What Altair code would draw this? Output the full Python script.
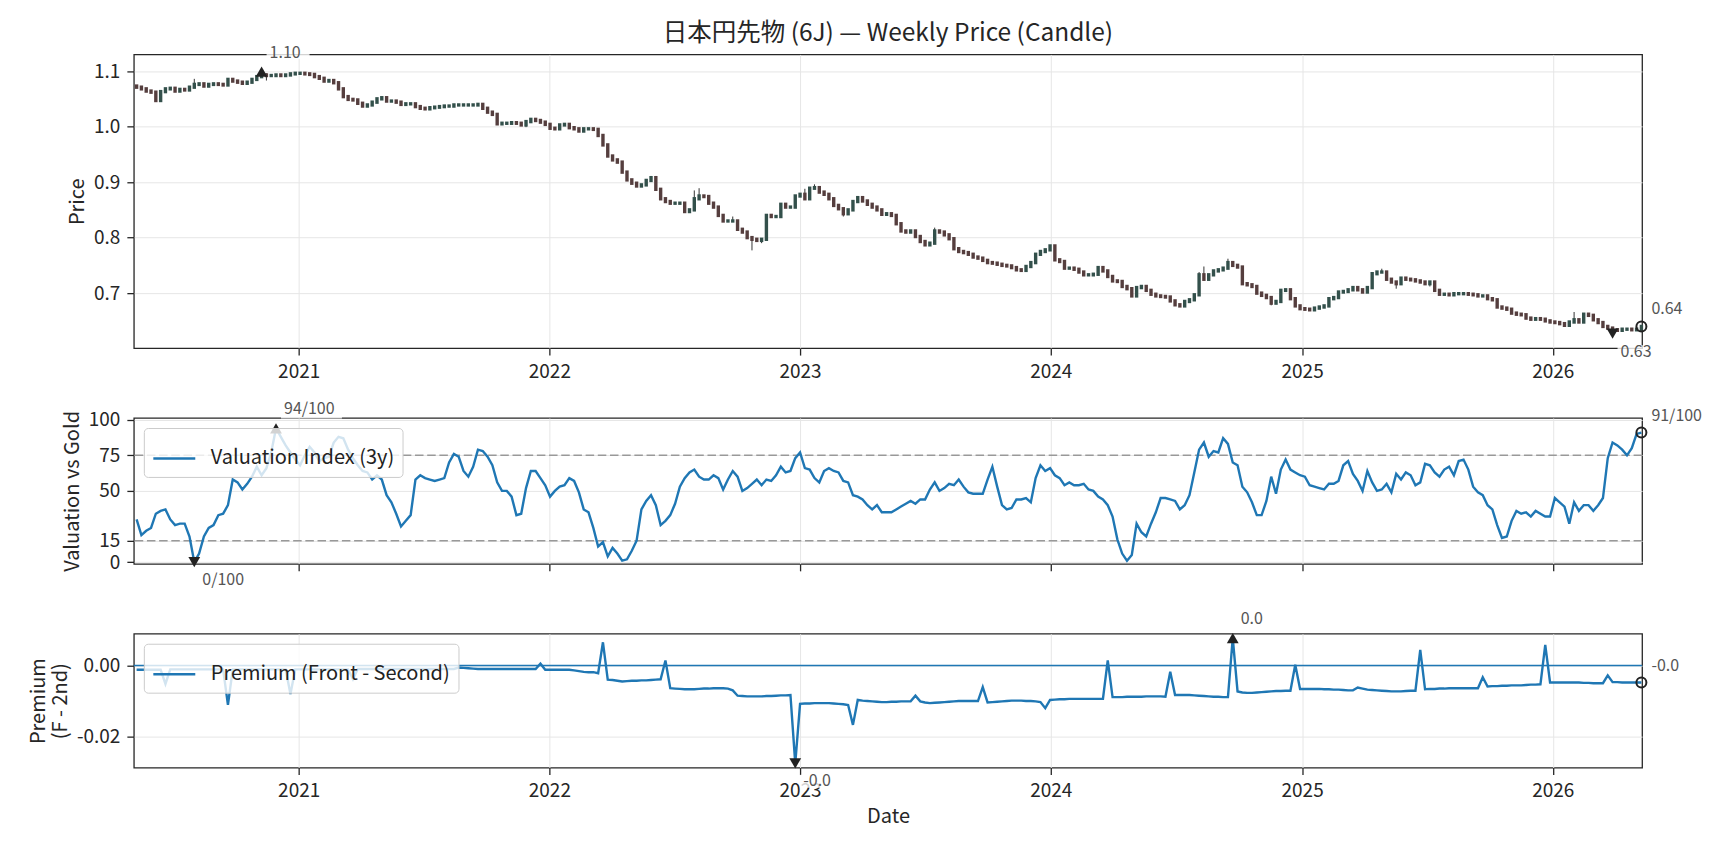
import altair as alt
import pandas as pd

FONT = "Noto Sans CJK JP"
TITLE = "日本円先物 (6J) — Weekly Price (Candle)"
START = "2020-05-10"
FIRST_OPEN = 1.073

closes = [
    1.071, 1.068, 1.064, 1.062, 1.047, 1.063, 1.068, 1.069, 1.064, 1.067,
    1.066, 1.071, 1.076, 1.077, 1.073, 1.076, 1.077, 1.076, 1.075, 1.085,
    1.082, 1.080, 1.078, 1.080, 1.085, 1.090, 1.093, 1.092, 1.092, 1.093,
    1.092, 1.093, 1.095, 1.096, 1.096, 1.095, 1.094, 1.090, 1.087, 1.082,
    1.083, 1.079, 1.068, 1.054, 1.049, 1.048, 1.042, 1.037, 1.039, 1.044,
    1.050, 1.052, 1.046, 1.046, 1.044, 1.040, 1.041, 1.041, 1.036, 1.033,
    1.032, 1.034, 1.035, 1.036, 1.037, 1.037, 1.039, 1.039, 1.039, 1.039,
    1.039, 1.040, 1.033, 1.026, 1.022, 1.005, 1.006, 1.006, 1.007, 1.006,
    1.003, 1.009, 1.013, 1.011, 1.008, 1.004, 0.997, 0.996, 1.003, 1.004,
    0.998, 0.996, 0.992, 0.996, 0.996, 0.995, 0.984, 0.967, 0.947, 0.940,
    0.936, 0.918, 0.904, 0.898, 0.893, 0.895, 0.903, 0.908, 0.887, 0.870,
    0.865, 0.862, 0.862, 0.862, 0.847, 0.850, 0.870, 0.875, 0.874, 0.862,
    0.855, 0.840, 0.830, 0.830, 0.830, 0.815, 0.810, 0.800, 0.797, 0.795,
    0.797, 0.840, 0.838, 0.838, 0.860, 0.855, 0.855, 0.875, 0.878, 0.870,
    0.889, 0.890, 0.882, 0.878, 0.870, 0.858, 0.852, 0.843, 0.850, 0.865,
    0.872, 0.866, 0.860, 0.855, 0.850, 0.842, 0.843, 0.840, 0.825, 0.812,
    0.810, 0.812, 0.802, 0.793, 0.787, 0.790, 0.812, 0.810, 0.805, 0.798,
    0.780, 0.775, 0.773, 0.770, 0.765, 0.763, 0.759, 0.755, 0.754, 0.752,
    0.750, 0.749, 0.746, 0.742, 0.741, 0.748, 0.755, 0.770, 0.775, 0.778,
    0.785, 0.760, 0.757, 0.745, 0.745, 0.743, 0.738, 0.733, 0.733, 0.734,
    0.746, 0.740, 0.730, 0.722, 0.721, 0.712, 0.708, 0.695, 0.710, 0.712,
    0.705, 0.698, 0.695, 0.694, 0.693, 0.686, 0.679, 0.677, 0.685, 0.688,
    0.697, 0.733, 0.725, 0.733, 0.740, 0.742, 0.745, 0.755, 0.750, 0.747,
    0.717, 0.715, 0.712, 0.700, 0.696, 0.692, 0.682, 0.685, 0.705, 0.706,
    0.690, 0.677, 0.672, 0.671, 0.670, 0.673, 0.675, 0.677, 0.690, 0.692,
    0.702, 0.703, 0.706, 0.710, 0.706, 0.702, 0.710, 0.735, 0.738, 0.738,
    0.725, 0.720, 0.717, 0.727, 0.725, 0.724, 0.722, 0.720, 0.717, 0.720,
    0.705, 0.698, 0.698, 0.697, 0.699, 0.699, 0.699, 0.698, 0.697, 0.695,
    0.695, 0.690, 0.688, 0.675, 0.673, 0.671, 0.664, 0.662, 0.661, 0.655,
    0.653, 0.654, 0.653, 0.650, 0.648, 0.647, 0.645, 0.642, 0.648, 0.652,
    0.648, 0.662, 0.660, 0.652, 0.647, 0.640, 0.637, 0.634, 0.633, 0.635,
    0.635, 0.634, 0.635, 0.640,
]

wick_high = {12: 1.086, 26: 1.099, 27: 1.096, 116: 0.885, 117: 0.889, 124: 0.838,
             139: 0.888, 141: 0.896, 166: 0.818, 221: 0.738, 222: 0.748, 227: 0.762,
             259: 0.744, 299: 0.666}
wick_low = {27: 1.083, 81: 0.999, 128: 0.777, 130: 0.790, 147: 0.838, 236: 0.678,
            262: 0.708, 269: 0.712, 307: 0.627}

valuation = [
    30, 19, 22, 24, 34, 36, 37, 30, 26, 27,
    27, 18, 0, 6, 18, 24, 26, 33, 34, 40,
    58, 56, 51, 55, 60, 67, 61, 66, 77, 94,
    88, 82, 77, 72, 68, 75, 81, 77, 71, 73,
    74, 84, 88, 87, 79, 73, 68, 64, 63, 58,
    61, 58, 47, 42, 34, 25, 29, 33, 58, 61,
    59, 58, 57, 58, 59, 70, 76, 74, 64, 60,
    67, 79, 78, 74, 68, 56, 50, 50, 46, 33,
    34, 52, 64, 64, 59, 54, 46, 50, 53, 54,
    59, 57, 49, 37, 35, 24, 11, 14, 4, 10,
    6, 1, 2, 8, 15, 37, 43, 47, 40, 26,
    29, 33, 41, 53, 59, 63, 65, 60, 58, 58,
    61, 59, 51, 58, 64, 60, 50, 52, 55, 58,
    54, 58, 57, 61, 67, 63, 64, 73, 77, 66,
    65, 59, 56, 64, 66, 64, 63, 57, 56, 47,
    46, 44, 40, 37, 40, 35, 35, 35, 37, 39,
    41, 43, 41, 44, 44, 51, 56, 50, 52, 55,
    54, 58, 53, 49, 48, 48, 48, 58, 67, 53,
    40, 37, 38, 44, 44, 45, 42, 59, 68, 64,
    66, 61, 59, 54, 56, 54, 54, 55, 51, 50,
    46, 44, 40, 32, 16, 6, 1, 5, 27, 21,
    18, 27, 35, 45, 45, 44, 43, 37, 40, 47,
    63, 79, 84, 74, 78, 77, 87, 83, 70, 68,
    53, 49, 42, 33, 33, 43, 60, 48, 65, 72,
    65, 63, 61, 60, 54, 53, 52, 51, 55, 55,
    57, 68, 71, 62, 57, 50, 64, 56, 50, 51,
    55, 49, 62, 58, 63, 61, 54, 56, 69, 68,
    63, 60, 65, 67, 61, 71, 72, 65, 53, 49,
    47, 40, 37, 26, 17, 18, 29, 36, 34, 35,
    32, 36, 34, 32, 32, 45, 42, 39, 27, 42,
    36, 40, 40, 36, 40, 45, 73, 84, 82, 79,
    75, 80, 90, 91,
]

premium = [
    -0.0012, -0.0012, -0.0012, -0.0012, -0.0012, -0.0012, -0.0052,
    -0.0011, -0.0011, -0.0011, -0.0011, -0.0011, -0.0011, -0.0011, -0.0011, -0.0011, -0.0011, -0.0011, -0.0011,
    -0.0111,
    -0.0011, -0.0011, -0.0011, -0.0011, -0.0011, -0.0011, -0.0011, -0.0011, -0.0011, -0.0011, -0.0011, -0.0011,
    -0.0080,
    -0.0011, -0.0011, -0.0011, -0.0011, -0.0011, -0.0011, -0.0011, -0.0011, -0.0011, -0.0011, -0.0011, -0.0011,
    -0.0039,
    -0.0010, -0.0010, -0.0010, -0.0010, -0.0010, -0.0010, -0.0010, -0.0010, -0.0010, -0.0010, -0.0010,
    -0.0010, -0.0010, -0.0010, -0.0010, -0.0010, -0.0010, -0.0010, -0.0010, -0.0010, -0.0010,
    -0.0006, -0.0007, -0.0008, -0.0009,
    -0.0010, -0.0010, -0.0010, -0.0010, -0.0010, -0.0010, -0.0010, -0.0010, -0.0010, -0.0010, -0.0010, -0.0010, -0.0010,
    0.0005,
    -0.0012, -0.0012, -0.0012, -0.0012, -0.0012, -0.0012,
    -0.0014, -0.0016, -0.0018, -0.0019, -0.0019, -0.0022,
    0.0065,
    -0.0040, -0.0041, -0.0043, -0.0045, -0.0044, -0.0043, -0.0043, -0.0042, -0.0042, -0.0041, -0.0040, -0.0039,
    0.0014,
    -0.0064, -0.0065, -0.0066, -0.0067, -0.0067, -0.0067, -0.0066, -0.0065, -0.0065, -0.0064, -0.0064, -0.0064, -0.0065, -0.0070,
    -0.0085, -0.0086, -0.0087, -0.0087, -0.0087, -0.0087, -0.0086, -0.0086, -0.0085, -0.0084, -0.0084, -0.0083,
    -0.0275,
    -0.0108, -0.0107, -0.0107, -0.0106, -0.0106, -0.0106, -0.0106, -0.0107, -0.0108, -0.0109, -0.0111,
    -0.0167,
    -0.0097,
    -0.0099, -0.0100, -0.0101, -0.0102, -0.0103, -0.0103, -0.0102, -0.0102, -0.0101, -0.0101, -0.0101,
    -0.0085,
    -0.0101, -0.0104, -0.0106, -0.0105, -0.0104, -0.0103, -0.0102, -0.0101, -0.0100, -0.0100, -0.0100, -0.0100, -0.0100,
    -0.0061,
    -0.0104, -0.0103, -0.0102, -0.0101, -0.0100, -0.0099, -0.0099, -0.0099, -0.0100, -0.0100, -0.0101, -0.0103,
    -0.0120,
    -0.0097, -0.0096, -0.0095, -0.0095, -0.0094, -0.0094, -0.0094, -0.0094, -0.0094, -0.0094, -0.0094, -0.0094,
    0.0014,
    -0.0089, -0.0089, -0.0089, -0.0088, -0.0088, -0.0088, -0.0088, -0.0087, -0.0087, -0.0087, -0.0087, -0.0088,
    -0.0018,
    -0.0083, -0.0083, -0.0083, -0.0083, -0.0084, -0.0085, -0.0086, -0.0087, -0.0088, -0.0088, -0.0089, -0.0089,
    0.0077,
    -0.0073, -0.0076, -0.0077, -0.0077, -0.0076, -0.0075, -0.0074, -0.0073, -0.0072, -0.0072, -0.0071, -0.0071,
    0.0002,
    -0.0066, -0.0066, -0.0066, -0.0066, -0.0066, -0.0067, -0.0067, -0.0068, -0.0068, -0.0069, -0.0070, -0.0070,
    -0.0062,
    -0.0065, -0.0068, -0.0069, -0.0070, -0.0071, -0.0072, -0.0073, -0.0073, -0.0073, -0.0072, -0.0071, -0.0071,
    0.0044,
    -0.0067, -0.0066, -0.0066, -0.0065, -0.0065, -0.0064, -0.0064, -0.0064, -0.0064, -0.0064, -0.0064, -0.0064,
    -0.0033,
    -0.0059, -0.0058, -0.0058, -0.0057, -0.0057, -0.0056, -0.0056, -0.0056, -0.0055, -0.0054, -0.0054, -0.0053,
    0.0058,
    -0.0048, -0.0048, -0.0048, -0.0048, -0.0048, -0.0048, -0.0048, -0.0049, -0.0049, -0.0050, -0.0050, -0.0050,
    -0.0028,
    -0.0047, -0.0047, -0.0048, -0.0048, -0.0048, -0.0048, -0.0048,
]

year_ticks = [2021, 2022, 2023, 2024, 2025, 2026]
price_ticks = [0.7, 0.8, 0.9, 1.0, 1.1]
val_ticks = [0, 15, 50, 75, 100]
prem_ticks = [-0.02, 0.0]
val_levels = [75, 15]
prem_levels = [0.0]

UP = "#33504b"
DOWN = "#553e3e"
BLUE = "#1f77b4"
W = 1510


def weekly(n):
    return list(pd.date_range(START, periods=n, freq="7D").strftime("%Y-%m-%d"))


XSCALE = alt.Scale(type="utc", nice=False, domain=[
    alt.DateTime(year=2020, month=5, date=6, utc=True),
    alt.DateTime(year=2026, month=5, date=11, utc=True)])
YEAR_VALUES = [alt.DateTime(year=y, month=1, date=1, utc=True) for y in year_ticks]


def xenc(labels=True, title=None):
    return alt.X("date:T", scale=XSCALE, title=title,
                 axis=alt.Axis(values=YEAR_VALUES, format="%Y", labels=labels, grid=True))


# ---------- candles ----------
opens = [FIRST_OPEN] + closes[:-1]
cdf = pd.DataFrame({
    "date": weekly(len(closes)),
    "open": opens,
    "close": closes,
    "high": [wick_high.get(i, max(o, c)) for i, (o, c) in enumerate(zip(opens, closes))],
    "low": [wick_low.get(i, min(o, c)) for i, (o, c) in enumerate(zip(opens, closes))],
    "dir": ["up" if c >= o else "down" for o, c in zip(opens, closes)],
})

vdf = pd.DataFrame({"date": weekly(len(valuation)), "value": valuation,
                    "series": "Valuation Index (3y)"})
pdf = pd.DataFrame({"date": weekly(len(premium)), "value": premium,
                    "series": "Premium (Front - Second)"})


def annot_df(df, vcol, hcol, lcol, fmt):
    imax = int(df[hcol].idxmax())
    imin = int(df[lcol].idxmin())
    ilast = len(df) - 1
    rows = [
        ("max", df["date"][imax], float(df[hcol][imax])),
        ("min", df["date"][imin], float(df[lcol][imin])),
        ("last", df["date"][ilast], float(df[vcol][ilast])),
    ]
    out = pd.DataFrame(rows, columns=["kind", "date", "value"])
    out["label"] = [fmt(v) for v in out["value"]]
    out["box"] = [(9.0 * len(s) + 7) ** 2 for s in out["label"]]
    return out


BOX = "M0,-0.3H2V0.3H0Z"
OFFS = {"max": (8, -19), "min": (8, 18), "last": (10, -17)}


def annot_layers(adf, x, y):
    layers = []
    base = alt.Chart(adf).encode(x=x, y=y)
    for kind, (dx, dy) in OFFS.items():
        sub = base.transform_filter(f"datum.kind == '{kind}'")
        layers.append(sub.mark_point(shape=BOX, filled=True, color="white", opacity=0.8,
                                     strokeWidth=0, xOffset=dx - 3, yOffset=dy)
                      .encode(size=alt.Size("box:Q", scale=None, legend=None)))
    tri_up = base.transform_filter("datum.kind == 'max'").mark_point(
        filled=True, size=140, opacity=1, color="#222222", shape="triangle-up")
    tri_dn = base.transform_filter("datum.kind == 'min'").mark_point(
        filled=True, size=140, opacity=1, color="#222222", shape="triangle-down")
    circ = base.transform_filter("datum.kind == 'last'").mark_point(
        filled=False, size=100, strokeWidth=2, opacity=1, color="#222222")
    layers += [tri_up, tri_dn, circ]
    for kind, (dx, dy) in OFFS.items():
        sub = base.transform_filter(f"datum.kind == '{kind}'")
        layers.append(sub.mark_text(align="left", baseline="middle", dx=dx, dy=dy,
                                    fontSize=16, color="#555555", font=FONT)
                      .encode(text="label:N"))
    return layers


# ---------- top panel ----------
YP_SCALE = alt.Scale(domain=[0.601, 1.130], nice=False, zero=False)
YP_AXIS = alt.Axis(values=price_ticks, format=".1f")
x_top = xenc(labels=True)
wicks = alt.Chart(cdf).mark_rule(color="#333333", strokeWidth=1).encode(
    x=x_top, y=alt.Y("low:Q", scale=YP_SCALE, axis=YP_AXIS, title="Price"), y2="high:Q")
body_up = alt.Chart(cdf).transform_filter("datum.dir == 'up'").mark_rule(
    strokeWidth=3.4, strokeCap="square", color=UP).encode(
    x=x_top, y=alt.Y("open:Q", scale=YP_SCALE, axis=YP_AXIS, title="Price"), y2="close:Q")
body_dn = alt.Chart(cdf).transform_filter("datum.dir == 'down'").mark_rule(
    strokeWidth=3.4, strokeCap="square", color=DOWN).encode(
    x=x_top, y=alt.Y("open:Q", scale=YP_SCALE, axis=YP_AXIS, title="Price"), y2="close:Q")
price_ann = annot_df(cdf, "close", "high", "low", lambda v: f"{v:.2f}")
top = alt.layer(wicks, body_up, body_dn, *annot_layers(
    price_ann, x_top, alt.Y("value:Q", scale=YP_SCALE, axis=YP_AXIS, title="Price"))).properties(
    width=W, height=294, title=alt.TitleParams(text=TITLE))

# ---------- middle panel ----------
YV_SCALE = alt.Scale(domain=[-1.2, 101.2], nice=False, zero=False)
YV_AXIS = alt.Axis(values=val_ticks, format="d")
x_mid = xenc(labels=False)
yv = alt.Y("value:Q", scale=YV_SCALE, axis=YV_AXIS, title="Valuation vs Gold")
lv = pd.DataFrame({"value": val_levels})
val_rules = alt.Chart(lv).mark_rule(color="#999999", strokeWidth=1.5, strokeDash=[8.5, 3.7]).encode(y=yv)


def line_legend():
    return alt.Legend(orient="top-left", title=None, offset=10, padding=8,
                      fillColor="rgba(255,255,255,0.8)", strokeColor="#cccccc", cornerRadius=4,
                      symbolType="stroke", symbolSize=1764, symbolStrokeWidth=2.4,
                      labelFont=FONT, labelFontSize=20, labelColor="#222222", labelLimit=500,
                      labelOffset=14)


val_line = alt.Chart(vdf).mark_line(strokeWidth=2.4).encode(
    x=x_mid, y=yv,
    color=alt.Color("series:N", scale=alt.Scale(range=[BLUE]), legend=line_legend()))
val_ann = annot_df(vdf, "value", "value", "value", lambda v: f"{v:.0f}/100")
mid = alt.layer(val_rules, val_line, *annot_layers(val_ann, x_mid, yv)).properties(width=W, height=146)

# ---------- bottom panel ----------
YR_SCALE = alt.Scale(domain=[-0.0287, 0.0089], nice=False, zero=False)
YR_AXIS = alt.Axis(values=prem_ticks, format=".2f", labelExpr="replace(datum.label, '\u2212', '-')")
x_bot = xenc(labels=True, title="Date")
yr = alt.Y("value:Q", scale=YR_SCALE, axis=YR_AXIS, title=["Premium", "(F - 2nd)"])
lp = pd.DataFrame({"value": prem_levels})
zero_rule = alt.Chart(lp).mark_rule(color=BLUE, strokeWidth=1.4).encode(y=yr)
prem_line = alt.Chart(pdf).mark_line(strokeWidth=2.4).encode(
    x=x_bot, y=yr,
    color=alt.Color("series:N", scale=alt.Scale(range=[BLUE]), legend=line_legend()))
prem_ann = annot_df(pdf, "value", "value", "value", lambda v: f"{v:.1f}")
bot = alt.layer(zero_rule, prem_line, *annot_layers(prem_ann, x_bot, yr)).properties(width=W, height=134)

chart = alt.vconcat(top, mid, bot, spacing=70, bounds="flush").resolve_scale(
    color="independent", size="independent"
).resolve_legend(
    color="independent", size="independent"
).properties(
    padding={"left": 19, "top": 12, "right": 10, "bottom": 10}
).configure(
    font=FONT, background="white"
).configure_view(
    stroke="#262626", strokeWidth=1.3
).configure_axis(
    labelFont=FONT, labelFontSize=19, labelColor="#262626",
    titleFont=FONT, titleFontSize=20, titleFontWeight="normal", titleColor="#262626",
    gridColor="#e6e6e6", gridWidth=1, domain=False,
    tickColor="#262626", tickWidth=1.3, tickSize=7, labelPadding=7, titlePadding=6
).configure_title(
    font=FONT, fontSize=24.5, fontWeight="normal", color="#262626", anchor="middle", offset=-2
)

chart.save("out.html", embed_options={"renderer": "svg", "actions": False})
